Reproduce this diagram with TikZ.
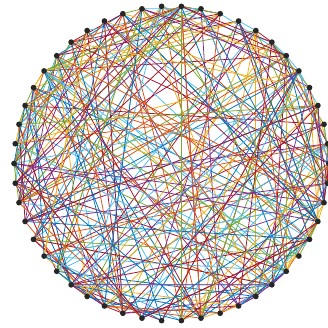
\documentclass[tikz,border=0pt]{standalone}
\definecolor{mblue}{rgb}{0,0.447,0.741}
\definecolor{morange}{rgb}{0.850,0.325,0.098}
\definecolor{myellow}{rgb}{0.929,0.694,0.125}
\definecolor{mpurple}{rgb}{0.494,0.184,0.556}
\definecolor{mgreen}{rgb}{0.466,0.674,0.188}
\definecolor{mcyan}{rgb}{0.301,0.745,0.933}
\definecolor{mred}{rgb}{0.635,0.078,0.184}
\tikzset{
  edge/.style={line width=0.7pt},
  vertex/.style={circle,fill=black!85,inner sep=0pt,minimum size=1.8mm}
}
\begin{document}
\begin{tikzpicture}
    \useasboundingbox (-5.445,-5.223) rectangle (4.969,5.191);
    \foreach \k in {0,...,49} \coordinate (v\k) at (\k*7.2:5);
    \pgfmathsetseed{7}
    \foreach \e in {1,...,310} {
        \pgfmathrandominteger{\a}{0}{49}
        \pgfmathrandominteger{\d}{1}{49}
        \pgfmathtruncatemacro{\b}{mod(\a+\d,50)}
        \pgfmathrandominteger{\c}{1}{7}
        \ifcase\c\or\def\col{mblue}\or\def\col{morange}\or\def\col{myellow}\or\def\col{mpurple}\or\def\col{mgreen}\or\def\col{mcyan}\or\def\col{mred}\fi
        \draw[edge,\col] (v\a) -- (v\b);
    }
    \foreach \k in {0,...,49} \node[vertex] (n\k) at (v\k) {};
\end{tikzpicture}
\end{document}
